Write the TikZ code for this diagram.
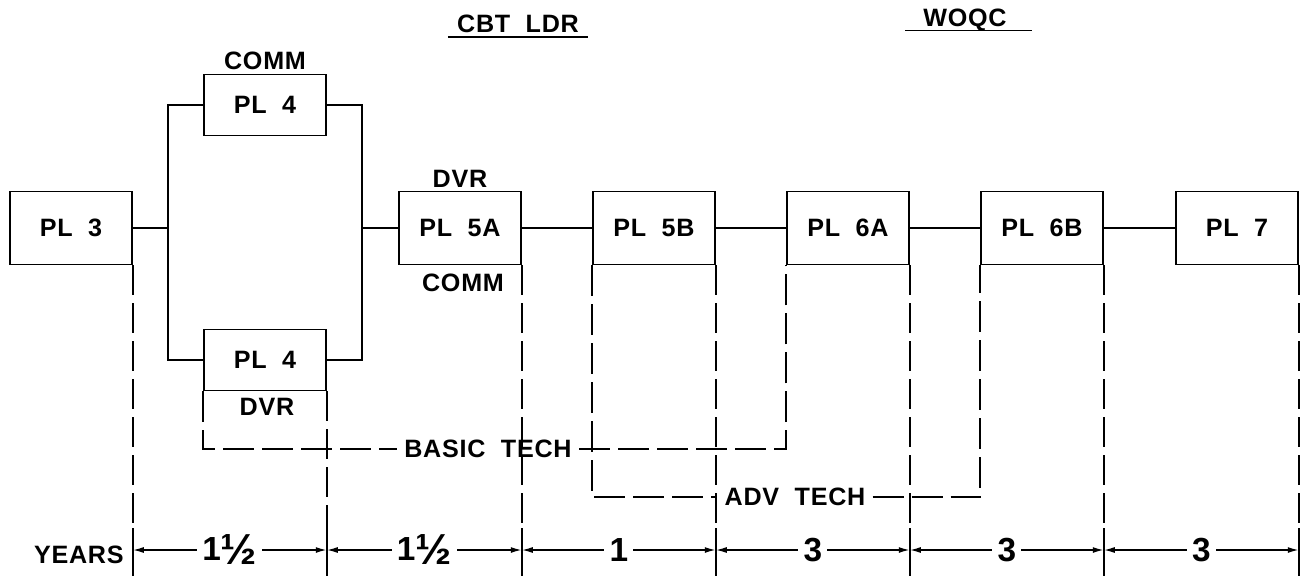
\documentclass[tikz,border=0pt]{standalone}
\usepackage{fontspec}
\setmainfont{Liberation Sans}[WordSpace=2, LetterSpace=3]
\usepackage{tikz}
\usetikzlibrary{
arrows.meta
}
\newcommand{\bighalf}{\raisebox{-2.5pt}{\scalebox{1.3}{½}}}
\tikzset{
plbox/.style={draw, line width=0.9pt, minimum width=2.44cm, minimum height=1.46cm, font=\bfseries\fontsize{14.3}{16}\selectfont},
smallbox/.style={plbox, minimum height=1.22cm},
tag/.style={font=\bfseries\fontsize{14.3}{16}\selectfont, inner sep=1pt},
link/.style={line width=0.9pt},
techline/.style={line width=0.9pt, dash pattern=on 0.62cm off 0.16cm},
extline/.style={line width=0.9pt, dash pattern=on 0.6cm off 0.16cm},
dimline/.style={line width=0.9pt, {Latex[length=2.2mm,width=1.2mm]}-{Latex[length=2.2mm,width=1.2mm]}},
dimlabel/.style={fill=white, inner xsep=3pt, inner ysep=0pt, font=\bfseries\fontsize{19}{20}\selectfont}
}

\begin{document}
\begin{tikzpicture}[x=0.02cm, y=-0.02cm]

\useasboundingbox (0,0) rectangle (1302,576);

% boxes
\node[
plbox
]
(pl3)
at (71,228)
{
PL 3
};

\node[
smallbox
]
(pl4t)
at (265,105)
{
PL 4
};

\node[
smallbox
]
(pl4b)
at (265,360)
{
PL 4
};

\node[
plbox
]
(pl5a)
at (460,228)
{
PL 5A
};

\node[
plbox
]
(pl5b)
at (654,228)
{
PL 5B
};

\node[
plbox
]
(pl6a)
at (848,228)
{
PL 6A
};

\node[
plbox
]
(pl6b)
at (1042,228)
{
PL 6B
};

\node[
plbox
]
(pl7)
at (1237,228)
{
PL 7
};

% labels
\node[tag] (comm4) at (265,61) {COMM};
\node[tag] (dvr4) at (267,407) {DVR};
\node[tag] (dvr5) at (460,179) {DVR};
\node[tag] (comm5) at (463,283) {COMM};

\node[tag] (cbt) at (518,24) {CBT LDR};
\draw[link] ([xshift=-4pt,yshift=-2.5pt]cbt.base west) -- ([xshift=4pt,yshift=-2.5pt]cbt.base east);
\node[tag] (woqc) at (965,20) {WOQC};
\draw[link] ([xshift=-9pt,yshift=-2.5pt]woqc.base west) -- ([xshift=13pt,yshift=-2.5pt]woqc.base east);

% paths
\coordinate (splitl) at (168,228);
\coordinate (splitr) at (362,228);
\draw[link] (pl3) -- (splitl);
\draw[link] (pl4t.west) -| (splitl) |- (pl4b.west);
\draw[link] (pl4t.east) -| (splitr) |- (pl4b.east);
\draw[link] (splitr) -- (pl5a);
\draw[link] (pl5a) -- (pl5b);
\draw[link] (pl5b) -- (pl6a);
\draw[link] (pl6a) -- (pl6b);
\draw[link] (pl6b) -- (pl7);

% tech tracks
\node[tag, inner xsep=4pt] (basic) at (488,449) {BASIC TECH};
\draw[techline] (pl4b.south west) |- (basic.west);
\draw[techline] (basic.east) -| (pl6a.south west);

\node[tag, inner xsep=4pt] (adv) at (795,497) {ADV TECH};
\draw[techline] (pl5b.south west) |- (adv.west);
\draw[techline] (adv.east) -| (pl6b.south west);

% years scale
\foreach \b/\n in {pl3/0, pl4b/1, pl5a/2, pl5b/3, pl6a/4, pl6b/5, pl7/6} {
\coordinate (d\n) at (\b.south east |- 0,550);
\draw[extline] (\b.south east) -- (\b.south east |- 0,528);
\draw[link] (\b.south east |- 0,528) -- (\b.south east |- 0,576);
}

\node[tag, anchor=east] (years) at ([xshift=-4pt,yshift=-3pt]d0) {YEARS};
\draw[dimline] (d0) -- node[dimlabel] {1\bighalf} (d1);
\draw[dimline] (d1) -- node[dimlabel] {1\bighalf} (d2);
\draw[dimline] (d2) -- node[dimlabel] {1} (d3);
\draw[dimline] (d3) -- node[dimlabel] {3} (d4);
\draw[dimline] (d4) -- node[dimlabel] {3} (d5);
\draw[dimline] (d5) -- node[dimlabel] {3} (d6);

\end{tikzpicture}
\end{document}
